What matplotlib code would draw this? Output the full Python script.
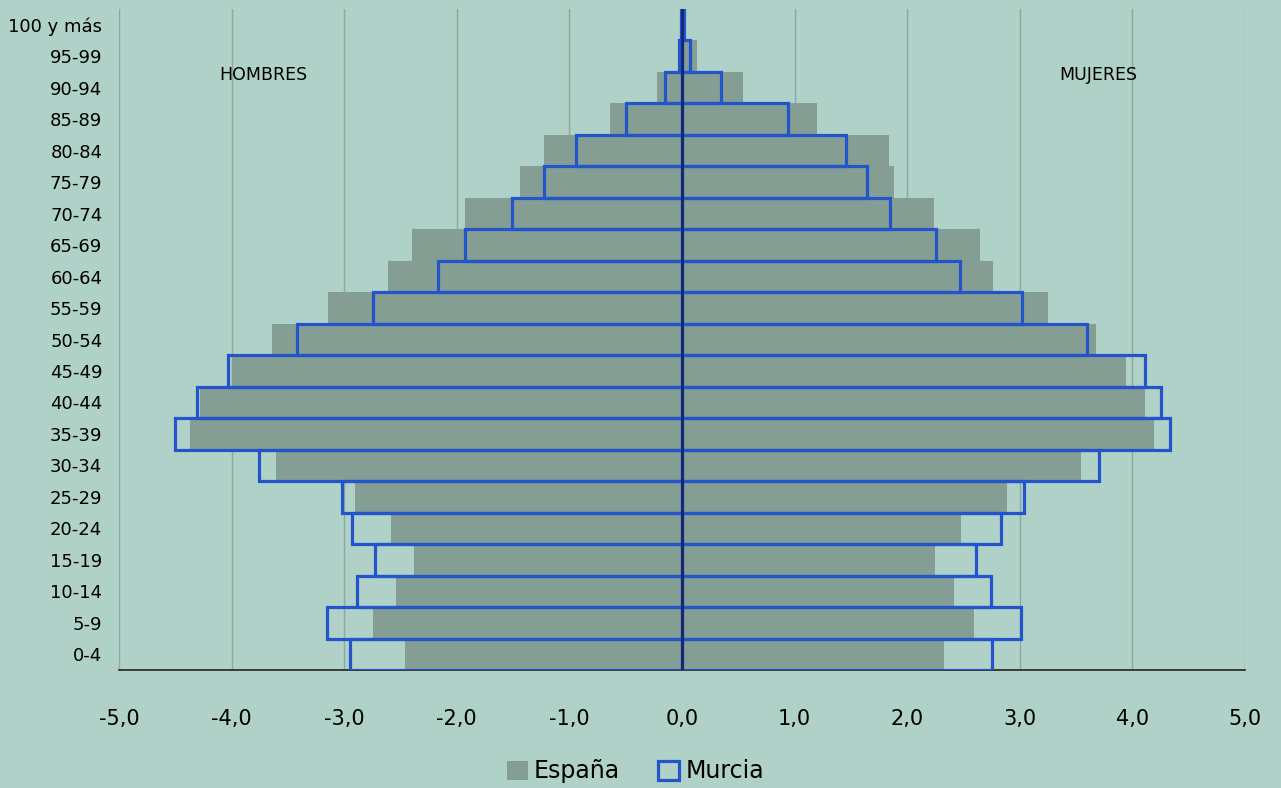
import numpy as np
import matplotlib.pyplot as plt
from matplotlib.patches import Patch

# grupos de edad (de abajo a arriba)
edades = ['0-4', '5-9', '10-14', '15-19', '20-24', '25-29', '30-34', '35-39',
          '40-44', '45-49', '50-54', '55-59', '60-64', '65-69', '70-74',
          '75-79', '80-84', '85-89', '90-94', '95-99', '100 y más']

# % de poblacion, hombres en negativo
espana_h = [-2.46, -2.74, -2.54, -2.38, -2.58, -2.90, -3.61, -4.37, -4.28, -4.00,
            -3.64, -3.14, -2.61, -2.40, -1.93, -1.44, -1.23, -0.64, -0.22, -0.04, -0.01]
espana_m = [2.33, 2.59, 2.42, 2.25, 2.48, 2.89, 3.54, 4.19, 4.11, 3.94,
            3.68, 3.25, 2.76, 2.65, 2.24, 1.88, 1.84, 1.20, 0.54, 0.13, 0.02]
murcia_h = [-2.95, -3.15, -2.89, -2.73, -2.93, -3.02, -3.76, -4.50, -4.31, -4.03,
            -3.42, -2.74, -2.17, -1.93, -1.51, -1.23, -0.94, -0.50, -0.15, -0.03, -0.01]
murcia_m = [2.75, 3.01, 2.74, 2.61, 2.83, 3.04, 3.70, 4.33, 4.25, 4.11,
            3.60, 3.02, 2.47, 2.26, 1.85, 1.64, 1.46, 0.94, 0.35, 0.07, 0.02]

xticks = [-5, -4, -3, -2, -1, 0, 1, 2, 3, 4, 5]
xlabels = ['-5,0', '-4,0', '-3,0', '-2,0', '-1,0', '0,0', '1,0', '2,0', '3,0', '4,0', '5,0']

fondo = '#afd1c8'
gris = '#849e94'
azul = '#2454cc'

fig = plt.figure(figsize=(12.81, 7.88), dpi=100, facecolor=fondo)
ax = fig.add_axes([0.0929, 0.1497, 0.8790, 0.8389])
ax.set_facecolor(fondo)

y = np.arange(len(edades))

ax.barh(y, espana_h, height=1.0, color=gris, zorder=2)
ax.barh(y, espana_m, height=1.0, color=gris, zorder=2)
ax.barh(y, murcia_h, height=1.0, facecolor='none', edgecolor=azul, lw=2.3, zorder=3)
ax.barh(y, murcia_m, height=1.0, facecolor='none', edgecolor=azul, lw=2.3, zorder=3)

ax.axvline(0, color='#14266e', lw=2, zorder=4)

ax.set_xlim(-5, 5)
ax.set_ylim(-0.5, len(edades) - 0.5)
ax.set_xticks(xticks)
ax.set_xticklabels(xlabels, fontsize=15)
ax.set_yticks(y)
ax.set_yticklabels(edades, fontsize=13)
ax.tick_params(axis='x', length=0, pad=28)
ax.tick_params(axis='y', length=0, pad=12)

ax.grid(axis='x', color='#8ea89f', lw=1, zorder=1)
for s in ['top', 'right', 'left']:
    ax.spines[s].set_visible(False)
ax.spines['bottom'].set_color('#222222')
ax.spines['bottom'].set_linewidth(1.2)

ax.text(-3.72, 18.4, 'HOMBRES', ha='center', va='center', fontsize=12.5)
ax.text(3.70, 18.4, 'MUJERES', ha='center', va='center', fontsize=12.5)

handles = [Patch(facecolor=gris, edgecolor='none', label='España'),
           Patch(facecolor='none', edgecolor=azul, lw=2.3, label='Murcia')]
fig.legend(handles=handles, loc='center', bbox_to_anchor=(0.496, 0.021), ncol=2,
           frameon=False, fontsize=17, handlelength=0.9, handleheight=0.9,
           handletextpad=0.25, columnspacing=1.6)

fig.savefig('out.png', dpi=100, facecolor=fondo)
